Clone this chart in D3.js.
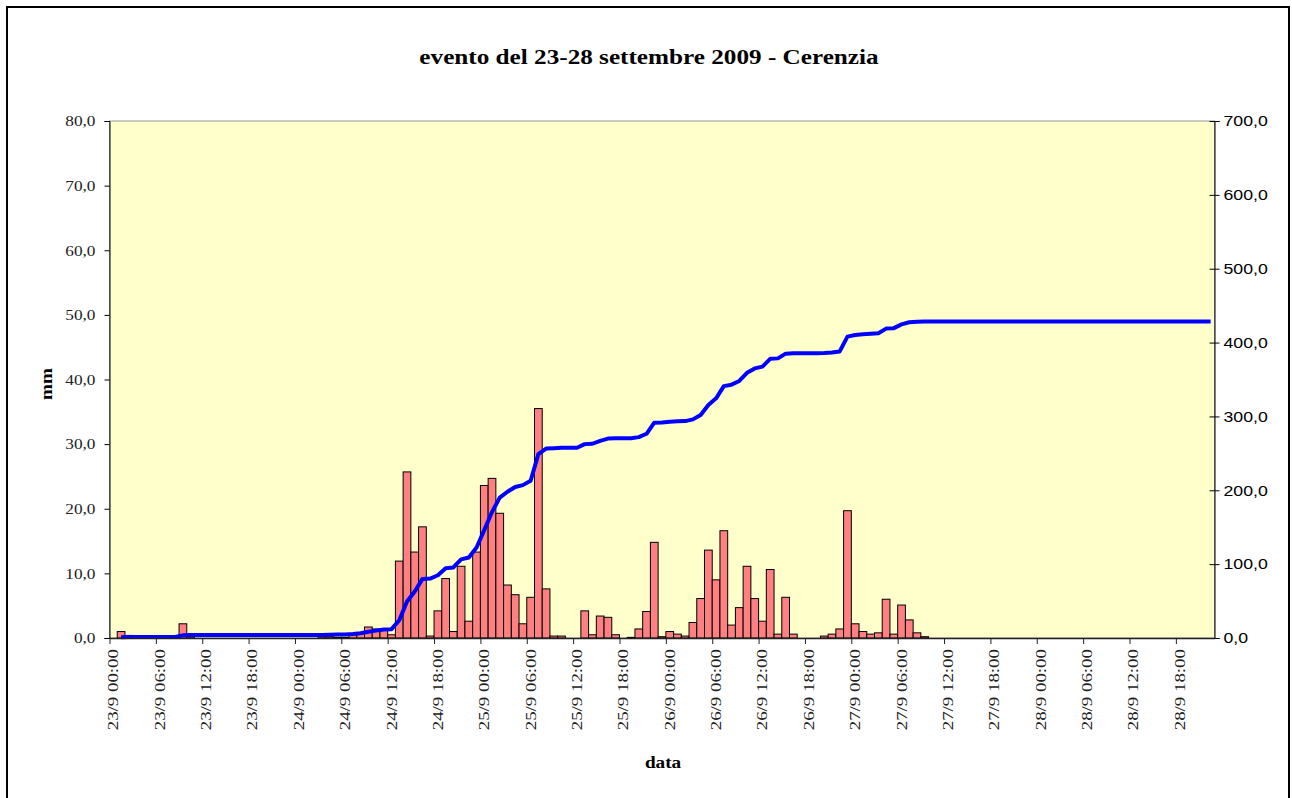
<!DOCTYPE html>
<html>
<head>
<meta charset="utf-8">
<script src="https://cdn.jsdelivr.net/npm/d3@7"></script>
<style>
  html, body { margin: 0; padding: 0; background: #ffffff; }
  svg { display: block; }
</style>
</head>
<body>
<svg id="chart" width="1292" height="798"></svg>
<script>
// Hourly rainfall (mm) and cumulative rainfall, Cerenzia, 23–28 September 2009.
const days = ["23/9", "24/9", "25/9", "26/9", "27/9", "28/9"];
const hourCount = 143;

// Hourly rainfall, one row per day (00:00 … 23:00)
const rainfall = [
  // 23/9
  null, 1.0, 0.4, 0, 0, 0, 0, 0, 0, 2.2, 0.2, 0,
  0, 0, 0, 0, 0, 0, 0, 0, 0, 0, 0, 0,
  // 24/9
  0, 0, 0, 0.2, 0.2, 0.1, 0.1, 0.6, 0.8, 1.7, 1.4, 1.3,
  0.5, 11.9, 25.7, 13.3, 17.2, 0.3, 4.2, 9.2, 1.0, 11.1, 2.6, 13.3,
  // 25/9
  23.6, 24.7, 19.3, 8.2, 6.7, 2.2, 6.3, 35.5, 7.6, 0.3, 0.3, 0,
  0, 4.2, 0.5, 3.4, 3.2, 0.5, 0, 0.1, 1.4, 4.1, 14.8, 0.2,
  // 26/9
  1.0, 0.6, 0.3, 2.4, 6.1, 13.6, 9.0, 16.6, 2.0, 4.7, 11.1, 6.1,
  2.6, 10.6, 0.6, 6.3, 0.6, 0, 0, 0, 0.3, 0.6, 1.4, 19.7,
  // 27/9
  2.2, 1.0, 0.6, 0.8, 6.0, 0.6, 5.1, 2.8, 0.8, 0.2, 0, 0,
  0, 0, 0, 0, 0, 0, 0, 0, 0, 0, 0, 0,
  // 28/9 (to 22:00)
  0, 0, 0, 0, 0, 0, 0, 0, 0, 0, 0, 0,
  0, 0, 0, 0, 0, 0, 0, 0, 0, 0, 0
];

// Cumulative rainfall (mm), right axis
const cumulative = [
  // 23/9
  null, 1.0, 1.4, 1.4, 1.4, 1.4, 1.4, 1.4, 1.4, 3.6, 4.0, 4.0,
  4.0, 4.0, 4.0, 4.0, 4.0, 4.0, 4.0, 4.0, 4.0, 4.0, 4.0, 4.0,
  // 24/9
  4.0, 4.0, 4.0, 4.2, 4.4, 4.6, 4.8, 5.5, 6.5, 8.4, 10.0, 11.4,
  12.0, 24.0, 49.5, 63.0, 80.0, 80.5, 85.0, 94.5, 95.5, 106.5, 109.0, 122.5,
  // 25/9
  146.0, 170.5, 190.0, 198.0, 204.5, 207.0, 213.0, 249.0, 256.5, 257.0, 257.5, 257.5,
  257.5, 262.5, 263.0, 267.0, 270.0, 270.5, 270.5, 270.6, 272.0, 276.5, 291.5, 291.7,
  // 26/9
  292.8, 293.4, 293.7, 296.0, 302.0, 315.5, 324.5, 341.0, 343.0, 348.0, 359.0, 365.0,
  367.5, 378.0, 378.6, 385.0, 385.6, 385.6, 385.6, 385.6, 386.0, 386.7, 388.0, 408.0,
  // 27/9
  410.3, 411.3, 411.9, 412.7, 418.9, 419.5, 424.6, 427.5, 428.3, 428.5, 428.5, 428.5,
  428.5, 428.5, 428.5, 428.5, 428.5, 428.5, 428.5, 428.5, 428.5, 428.5, 428.5, 428.5,
  // 28/9
  428.5, 428.5, 428.5, 428.5, 428.5, 428.5, 428.5, 428.5, 428.5, 428.5, 428.5, 428.5,
  428.5, 428.5, 428.5, 428.5, 428.5, 428.5, 428.5, 428.5, 428.5, 428.5, 428.5
];

const leftTicks = [0, 10, 20, 30, 40, 50, 60, 70, 80];
const rightTicks = [0, 100, 200, 300, 400, 500, 600, 700];
const labelHours = ["00:00", "06:00", "12:00", "18:00"];

// Category keys: "dd/9 hh:00", one per hour
const categories = days.flatMap(d => d3.range(24).map(h => `${d} ${String(h).padStart(2, "0")}:00`)).slice(0, hourCount);
const tickLabels = categories.filter(c => labelHours.includes(c.split(" ")[1]));

const serif = "'Liberation Serif', 'DejaVu Serif', serif";
const sans = "'Liberation Sans', Arial, sans-serif";

const svg = d3.select("#chart");

// outer frame
svg.append("rect")
  .attr("x", 7).attr("y", 7).attr("width", 1282).attr("height", 800)
  .attr("fill", "#ffffff").attr("stroke", "#000000").attr("stroke-width", 2);

const plot = { left: 109.5, right: 1214.5, top: 121, bottom: 638 };

const x = d3.scaleBand().domain(categories).range([plot.left, plot.right]).paddingInner(0).paddingOuter(0);
const xEdge = d3.scaleLinear().domain([0, hourCount]).range([plot.left, plot.right]);
const yL = d3.scaleLinear().domain([0, 80]).range([plot.bottom, plot.top]);
const yR = d3.scaleLinear().domain([0, 700]).range([plot.bottom, plot.top]);

// plot area
svg.append("rect")
  .attr("x", plot.left).attr("y", plot.top)
  .attr("width", plot.right - plot.left).attr("height", plot.bottom - plot.top)
  .attr("fill", "#FFFFCC").attr("stroke", "#9a9a9a").attr("stroke-width", 1);

// widen glyphs horizontally (in the text's own frame)
function widen(sel, k) {
  sel.each(function () {
    const t = d3.select(this);
    const tx = +t.attr("x") || 0;
    const ty = +t.attr("y") || 0;
    const base = t.attr("data-rot") ? `rotate(${t.attr("data-rot")}) ` : "";
    t.attr("x", 0).attr("y", 0)
      .attr("transform", `${base}translate(${tx},${ty}) scale(${k},1)`);
  });
}

// hourly bars
svg.append("g")
  .selectAll("rect")
  .data(categories.map((c, i) => ({ c, v: rainfall[i] })).filter(d => d.v != null && d.v > 0))
  .join("rect")
  .attr("x", d => x(d.c))
  .attr("y", d => yL(d.v))
  .attr("width", x.bandwidth())
  .attr("height", d => yL(0) - yL(d.v))
  .attr("fill", "#FF8080")
  .attr("stroke", "#000000")
  .attr("stroke-width", 1);

// cumulative line
const line = d3.line()
  .defined(d => d.v != null)
  .x(d => x(d.c) + x.bandwidth() / 2)
  .y(d => yR(d.v));

svg.append("path")
  .datum(categories.map((c, i) => ({ c, v: cumulative[i] })))
  .attr("d", line)
  .attr("fill", "none")
  .attr("stroke", "#0000FF")
  .attr("stroke-width", 4)
  .attr("stroke-linejoin", "round")
  .attr("stroke-linecap", "butt");

const comma = v => d3.format(".1f")(v).replace(".", ",");

// left axis
const gL = svg.append("g")
  .attr("transform", `translate(${plot.left},0)`)
  .call(d3.axisLeft(yL).tickValues(leftTicks).tickFormat(comma).tickSize(5).tickPadding(9));
gL.select(".domain").attr("stroke", "#000");
gL.selectAll(".tick line").attr("stroke", "#000");
gL.selectAll("text").attr("font-family", serif).attr("font-size", 15).attr("fill", "#222");
widen(gL.selectAll("text"), 1.15);

// right axis, ticks crossing the axis line
const gR = svg.append("g")
  .attr("transform", `translate(${plot.right},0)`)
  .call(d3.axisRight(yR).tickValues(rightTicks).tickFormat(comma).tickSize(5).tickPadding(4));
gR.select(".domain").attr("stroke", "#000");
gR.selectAll(".tick line").attr("x1", -5).attr("x2", 5).attr("stroke", "#000");
gR.selectAll("text").attr("font-family", sans).attr("font-size", 15).attr("fill", "#000");
widen(gR.selectAll("text"), 1.18);

// bottom axis: tick marks on category boundaries
const gB = svg.append("g")
  .attr("transform", `translate(0,${plot.bottom})`)
  .call(d3.axisBottom(xEdge).tickValues(d3.range(0, hourCount, 6)).tickFormat("").tickSize(6).tickSizeOuter(0));
gB.select(".domain").attr("stroke", "#222").attr("stroke-width", 1.5);
gB.selectAll(".tick line").attr("stroke", "#222");

// bottom axis labels at category centres, rotated
const gBL = svg.append("g")
  .attr("transform", `translate(0,${plot.bottom})`)
  .call(d3.axisBottom(x).tickValues(tickLabels).tickSize(0).tickPadding(0));
gBL.select(".domain").remove();
gBL.selectAll("text")
  .attr("font-family", serif).attr("font-size", 15).attr("fill", "#222")
  .attr("text-anchor", "end")
  .attr("dy", "0.33em")
  .attr("x", -11).attr("y", 0)
  .attr("data-rot", -90);
widen(gBL.selectAll("text"), 1.26);

// title
const title = svg.append("text")
  .attr("x", 649).attr("y", 64)
  .attr("text-anchor", "middle")
  .attr("font-family", serif).attr("font-weight", "bold").attr("font-size", 20)
  .attr("fill", "#000")
  .text("evento del 23-28 settembre 2009 - Cerenzia");
widen(title, 1.26);

// axis titles
const yTitle = svg.append("text")
  .attr("x", -384).attr("y", 52)
  .attr("text-anchor", "middle")
  .attr("font-family", serif).attr("font-weight", "bold").attr("font-size", 16)
  .attr("fill", "#000")
  .attr("data-rot", -90)
  .text("mm");
widen(yTitle, 1.2);

const xTitle = svg.append("text")
  .attr("x", 663).attr("y", 768)
  .attr("text-anchor", "middle")
  .attr("font-family", serif).attr("font-weight", "bold").attr("font-size", 16)
  .attr("fill", "#000")
  .text("data");
widen(xTitle, 1.2);
</script>
</body>
</html>
